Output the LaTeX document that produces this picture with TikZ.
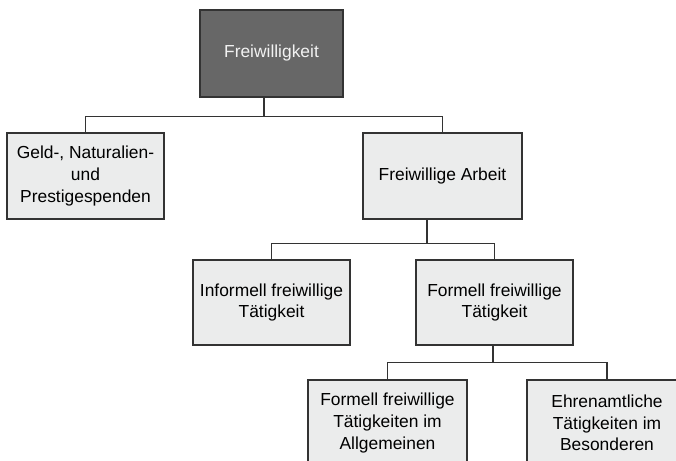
\documentclass[tikz,border=0pt]{standalone}
\usepackage{fontspec}
\setmainfont{Liberation Sans}
\usepackage{tikz}
\usetikzlibrary{positioning,calc}
\definecolor{RootGrey}{HTML}{676767}
\definecolor{RootText}{HTML}{F2F2F2}
\definecolor{SoftGrey}{HTML}{EBECEC}
\definecolor{EdgeGrey}{HTML}{333333}

\begin{document}
\begin{tikzpicture}[
  x=1pt,y=-1pt,
  every node/.style={font=\fontsize{17.4}{21.7}\selectfont,align=center,inner sep=2pt},
  box/.style={draw=EdgeGrey,line width=1.2pt,fill=SoftGrey,text=black,minimum width=157pt,minimum height=86pt},
  rootbox/.style={box,fill=RootGrey,text=RootText,minimum width=143pt,minimum height=87pt},
  conn/.style={line width=1.2pt,color=EdgeGrey}
]
\useasboundingbox (0,0) rectangle (676,460);
\clip (0,0) rectangle (676,460);
% boxes
\node[rootbox] (root) at (271.5,53.5) {Freiwilligkeit};
\node[box] (geld) at (85.5,176) {Geld-, Naturalien-\\und\\Prestigespenden};
\node[box,minimum width=159pt] (arbeit) at (442.5,176) {Freiwillige Arbeit};
\node[box,minimum height=85pt] (informell) at (271.5,302.5) {Informell freiwillige\\Tätigkeit};
\node[box,minimum height=85pt] (formell) at (494.5,302.5) {Formell freiwillige\\Tätigkeit};
\node[box,minimum width=159pt] (allgemein) at (387.5,423) {Formell freiwillige\\Tätigkeiten im\\Allgemeinen};
\node[box,minimum width=160pt] (ehrenamt) at (607,423) {Ehrenamtliche\\Tätigkeiten im\\Besonderen};
% connectors
\draw[conn] ([xshift=-7.5pt]root.south) -- ++(0,19) coordinate (bus1);
\draw[conn] (geld.north) |- (bus1) -| (arbeit.north);
\draw[conn] ([xshift=-15.5pt]arbeit.south) -- ++(0,24) coordinate (bus2);
\draw[conn] (informell.north) |- (bus2) -| (formell.north);
\draw[conn] ([xshift=-1.5pt]formell.south) -- ++(0,17) coordinate (bus3);
\draw[conn] (allgemein.north) |- (bus3) -| (ehrenamt.north);
\end{tikzpicture}
\end{document}
